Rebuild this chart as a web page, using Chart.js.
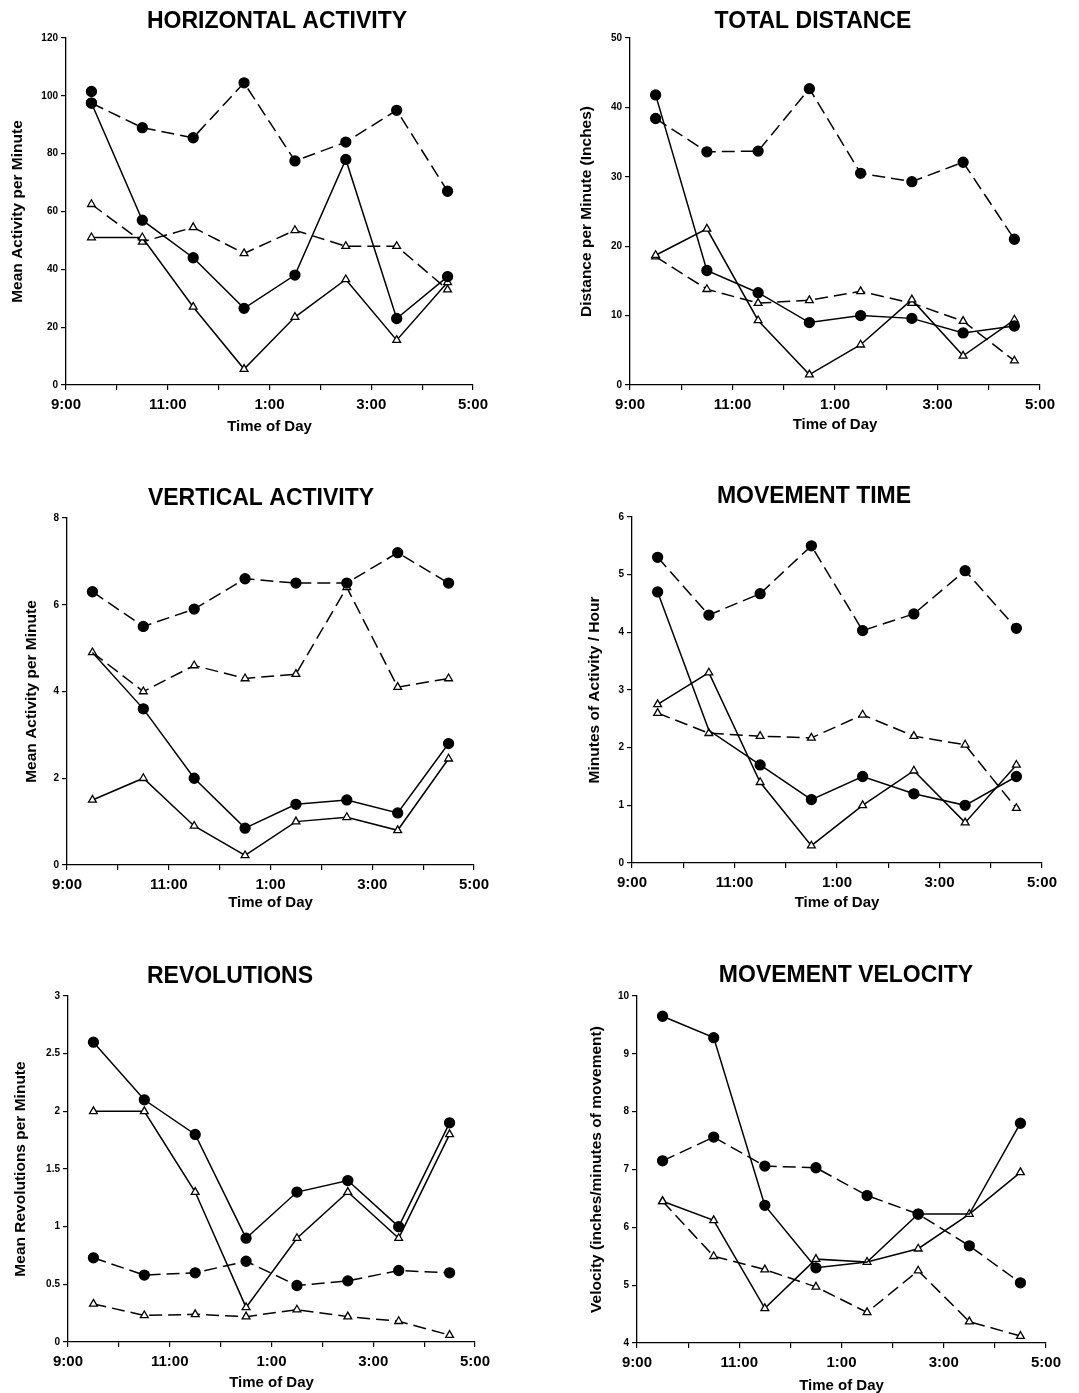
<!DOCTYPE html>
<html>
<head>
<meta charset="utf-8">
<script src="https://cdn.jsdelivr.net/npm/chart.js@4.4.1/dist/chart.umd.min.js"></script>
<style>
  body { margin: 0; background: #fff; }
  #wrap { position: relative; width: 1079px; height: 1393px; }
  #wrap canvas { position: absolute; }
</style>
</head>
<body>
<div id="wrap"></div>
<script>
// readings were taken at the half hours, counted in hours after 9:00
const hours = [0.5, 1.5, 2.5, 3.5, 4.5, 5.5, 6.5, 7.5];
const hourTicks = ['9:00', '', '11:00', '', '1:00', '', '3:00', '', '5:00'];

// HORIZONTAL ACTIVITY
const horizSolidCircle = [97.5, 57, 44, 26.5, 38, 78, 23, 37.5];
const horizSolidTriangle = [51, 51, 27, 5.5, 23.5, 36.5, 15.5, 35.5];
const horizDashCircle = [97.5, 89, 85.5, 104.5, 77.5, 84, 95, 67];
const horizDashTriangle = [62.5, 49.5, 54.5, 45.5, 53.5, 48, 48, 33];
const horizLoose = [101.5]; // lone circle at 9:30, not joined to a line

// TOTAL DISTANCE
const distSolidCircle = [41.8, 16.5, 13.3, 9, 10, 9.6, 7.5, 8.5];
const distSolidTriangle = [18.7, 22.5, 9.3, 1.5, 5.8, 12.3, 4.2, 9.4];
const distDashCircle = [38.4, 33.6, 33.7, 42.7, 30.5, 29.3, 32.1, 21];
const distDashTriangle = [18.5, 13.8, 11.8, 12.2, 13.5, 11.8, 9.2, 3.5];

// VERTICAL ACTIVITY
const vertSolidCircle = [4.9, 3.6, 2.0, 0.85, 1.4, 1.5, 1.2, 2.8];
const vertSolidTriangle = [1.5, 2.0, 0.9, 0.22, 1.0, 1.1, 0.8, 2.45];
const vertDashCircle = [6.3, 5.5, 5.9, 6.6, 6.5, 6.5, 7.2, 6.5];
const vertDashTriangle = [4.9, 4.0, 4.6, 4.3, 4.4, 6.4, 4.1, 4.3];

// MOVEMENT TIME
const timeSolidCircle = [4.7, 2.3, 1.7, 1.1, 1.5, 1.2, 1.0, 1.5];
const timeSolidTriangle = [2.75, 3.3, 1.4, 0.3, 1.0, 1.6, 0.7, 1.7];
const timeDashCircle = [5.3, 4.3, 4.67, 5.5, 4.03, 4.32, 5.07, 4.07];
const timeDashTriangle = [2.6, 2.25, 2.2, 2.17, 2.57, 2.2, 2.05, 0.95];

// REVOLUTIONS
const revSolidCircle = [2.6, 2.1, 1.8, 0.9, 1.3, 1.4, 1.0, 1.9];
const revSolidTriangle = [2.0, 2.0, 1.3, 0.3, 0.9, 1.3, 0.9, 1.8];
const revDashCircle = [0.73, 0.58, 0.6, 0.7, 0.49, 0.53, 0.62, 0.6];
const revDashTriangle = [0.33, 0.23, 0.24, 0.22, 0.28, 0.22, 0.18, 0.06];

// MOVEMENT VELOCITY
const velSolidCircle = [9.65, 9.28, 6.38, 5.3, 5.4, 6.23, 6.23, 7.8];
const velSolidTriangle = [6.45, 6.12, 4.6, 5.45, 5.4, 5.63, 6.23, 6.95];
const velDashCircle = [7.15, 7.56, 7.06, 7.03, 6.55, 6.23, 5.68, 5.04];
const velDashTriangle = [6.45, 5.5, 5.27, 4.97, 4.53, 5.25, 4.37, 4.12];

Chart.defaults.font.family = '"Liberation Sans", Arial, sans-serif';
Chart.defaults.color = '#000';

const panels = [
	{
		title: 'HORIZONTAL ACTIVITY', yLabel: 'Mean Activity per Minute',
		yMin: 0, yMax: 120, yStep: 20,
		box: { x: 0, y: 0, w: 540, h: 465 },
		area: { L: 66, T: 38, R: 473, B: 385 },
		titleAt: { x: 277, y: 22 }, yLabelX: 18, xLabelY: 427,
		series: [
			{ values: horizSolidCircle, dashed: false, marker: 'circle' },
			{ values: horizSolidTriangle, dashed: false, marker: 'triangle' },
			{ values: horizDashCircle, dashed: true, marker: 'circle' },
			{ values: horizDashTriangle, dashed: true, marker: 'triangle' },
			{ values: horizLoose, dashed: false, marker: 'circle', noLine: true },
		],
	},
	{
		title: 'TOTAL DISTANCE', yLabel: 'Distance per Minute (Inches)',
		yMin: 0, yMax: 50, yStep: 10,
		box: { x: 540, y: 0, w: 539, h: 465 },
		area: { L: 630, T: 38, R: 1040, B: 385 },
		titleAt: { x: 813, y: 22 }, yLabelX: 587, xLabelY: 425,
		series: [
			{ values: distSolidCircle, dashed: false, marker: 'circle' },
			{ values: distSolidTriangle, dashed: false, marker: 'triangle' },
			{ values: distDashCircle, dashed: true, marker: 'circle' },
			{ values: distDashTriangle, dashed: true, marker: 'triangle' },
		],
	},
	{
		title: 'VERTICAL ACTIVITY', yLabel: 'Mean Activity per Minute',
		yMin: 0, yMax: 8, yStep: 2,
		box: { x: 0, y: 465, w: 540, h: 465 },
		area: { L: 67, T: 518, R: 474, B: 865 },
		titleAt: { x: 261, y: 499 }, yLabelX: 32, xLabelY: 903,
		series: [
			{ values: vertSolidCircle, dashed: false, marker: 'circle', hidden: [0] },
			{ values: vertSolidTriangle, dashed: false, marker: 'triangle' },
			{ values: vertDashCircle, dashed: true, marker: 'circle' },
			{ values: vertDashTriangle, dashed: true, marker: 'triangle' },
		],
	},
	{
		title: 'MOVEMENT TIME', yLabel: 'Minutes of Activity / Hour',
		yMin: 0, yMax: 6, yStep: 1,
		box: { x: 540, y: 465, w: 539, h: 465 },
		area: { L: 632, T: 517, R: 1042, B: 863 },
		titleAt: { x: 814, y: 497 }, yLabelX: 595, xLabelY: 903,
		series: [
			{ values: timeSolidCircle, dashed: false, marker: 'circle', hidden: [1] },
			{ values: timeSolidTriangle, dashed: false, marker: 'triangle' },
			{ values: timeDashCircle, dashed: true, marker: 'circle' },
			{ values: timeDashTriangle, dashed: true, marker: 'triangle' },
		],
	},
	{
		title: 'REVOLUTIONS', yLabel: 'Mean Revolutions per Minute',
		yMin: 0, yMax: 3, yStep: 0.5,
		box: { x: 0, y: 930, w: 540, h: 463 },
		area: { L: 68, T: 996, R: 475, B: 1342 },
		titleAt: { x: 230, y: 977 }, yLabelX: 21, xLabelY: 1383,
		series: [
			{ values: revSolidCircle, dashed: false, marker: 'circle' },
			{ values: revSolidTriangle, dashed: false, marker: 'triangle' },
			{ values: revDashCircle, dashed: true, marker: 'circle' },
			{ values: revDashTriangle, dashed: true, marker: 'triangle' },
		],
	},
	{
		title: 'MOVEMENT VELOCITY', yLabel: 'Velocity (inches/minutes of movement)',
		yMin: 4, yMax: 10, yStep: 1,
		box: { x: 540, y: 930, w: 539, h: 463 },
		area: { L: 637, T: 996, R: 1046, B: 1343 },
		titleAt: { x: 846, y: 976 }, yLabelX: 597, xLabelY: 1386,
		series: [
			{ values: velSolidCircle, dashed: false, marker: 'circle', hidden: [4, 6] },
			{ values: velSolidTriangle, dashed: false, marker: 'triangle' },
			{ values: velDashCircle, dashed: true, marker: 'circle' },
			{ values: velDashTriangle, dashed: true, marker: 'triangle' },
		],
	},
];

// big bold heading over each panel, placed where the original has it
const panelTitle = {
	id: 'panelTitle',
	afterDraw(chart, args, opts) {
		const ctx = chart.ctx;
		ctx.save();
		ctx.font = 'bold 23px "Liberation Sans", Arial, sans-serif';
		ctx.textAlign = 'center';
		ctx.textBaseline = 'middle';
		ctx.fillStyle = '#000';
		ctx.fillText(opts.text, opts.x, opts.y);
		ctx.restore();
	},
};

function toDataset(s) {
	const isCircle = s.marker === 'circle';
	const radius = isCircle ? 5 : 4.5;
	const hidden = s.hidden || [];
	return {
		data: s.values.map((v, i) => ({ x: hours[i], y: v })),
		showLine: !s.noLine,
		borderColor: '#000',
		borderWidth: 1.5,
		borderDash: s.dashed ? [13, 6] : [],
		tension: 0,
		pointStyle: isCircle ? 'circle' : 'triangle',
		pointRadius: (c) => (hidden.includes(c.dataIndex) ? 0 : radius),
		pointBackgroundColor: isCircle ? '#000' : '#fff',
		pointBorderColor: '#000',
		pointBorderWidth: 1.3,
		clip: false,
	};
}

function makeChart(p) {
	const canvas = document.createElement('canvas');
	canvas.width = p.box.w;
	canvas.height = p.box.h;
	canvas.style.left = p.box.x + 'px';
	canvas.style.top = p.box.y + 'px';
	document.getElementById('wrap').appendChild(canvas);

	const left = p.area.L - p.box.x;
	const top = p.area.T - p.box.y;
	const right = p.area.R - p.box.x;
	const bottom = p.area.B - p.box.y;
	const yTitleFont = 15.5;
	const xTitleFont = 15;

	return new Chart(canvas, {
		type: 'line',
		data: { datasets: p.series.map(toDataset) },
		plugins: [panelTitle],
		options: {
			responsive: false,
			animation: false,
			events: [],
			layout: {
				padding: { left: 0, top: top, right: p.box.w - right, bottom: 0 },
			},
			plugins: {
				legend: { display: false },
				tooltip: { enabled: false },
				panelTitle: {
					text: p.title,
					x: p.titleAt.x - p.box.x,
					y: p.titleAt.y - p.box.y,
				},
			},
			scales: {
				x: {
					type: 'linear',
					min: 0,
					max: 8,
					afterFit: (scale) => {
						scale.height = p.box.h - bottom;
					},
					ticks: {
						stepSize: 1,
						autoSkip: false,
						maxRotation: 0,
						padding: 6,
						font: { size: 15, weight: 'bold' },
						callback: (v) => hourTicks[v],
					},
					grid: {
						drawOnChartArea: false,
						tickLength: 5,
						color: '#000',
						lineWidth: 1.2,
					},
					border: { color: '#000', width: 1.3 },
					title: {
						display: true,
						text: 'Time of Day',
						font: { size: xTitleFont, weight: 'bold' },
						padding: {
							top: 0,
							bottom: p.box.h - (p.xLabelY - p.box.y) - (xTitleFont * 1.2) / 2,
						},
					},
				},
				y: {
					type: 'linear',
					min: p.yMin,
					max: p.yMax,
					afterFit: (scale) => {
						scale.width = left;
					},
					ticks: {
						stepSize: p.yStep,
						padding: 3,
						font: { size: 10, weight: 'bold' },
						callback: (v) => String(v),
					},
					grid: {
						drawOnChartArea: false,
						tickLength: 5,
						color: '#000',
						lineWidth: 1.2,
					},
					border: { color: '#000', width: 1.3 },
					title: {
						display: true,
						text: p.yLabel,
						font: { size: yTitleFont, weight: 'bold' },
						padding: {
							top: p.yLabelX - p.box.x - (yTitleFont * 1.2) / 2,
							bottom: 0,
						},
					},
				},
			},
		},
	});
}

panels.forEach(makeChart);
</script>
</body>
</html>
